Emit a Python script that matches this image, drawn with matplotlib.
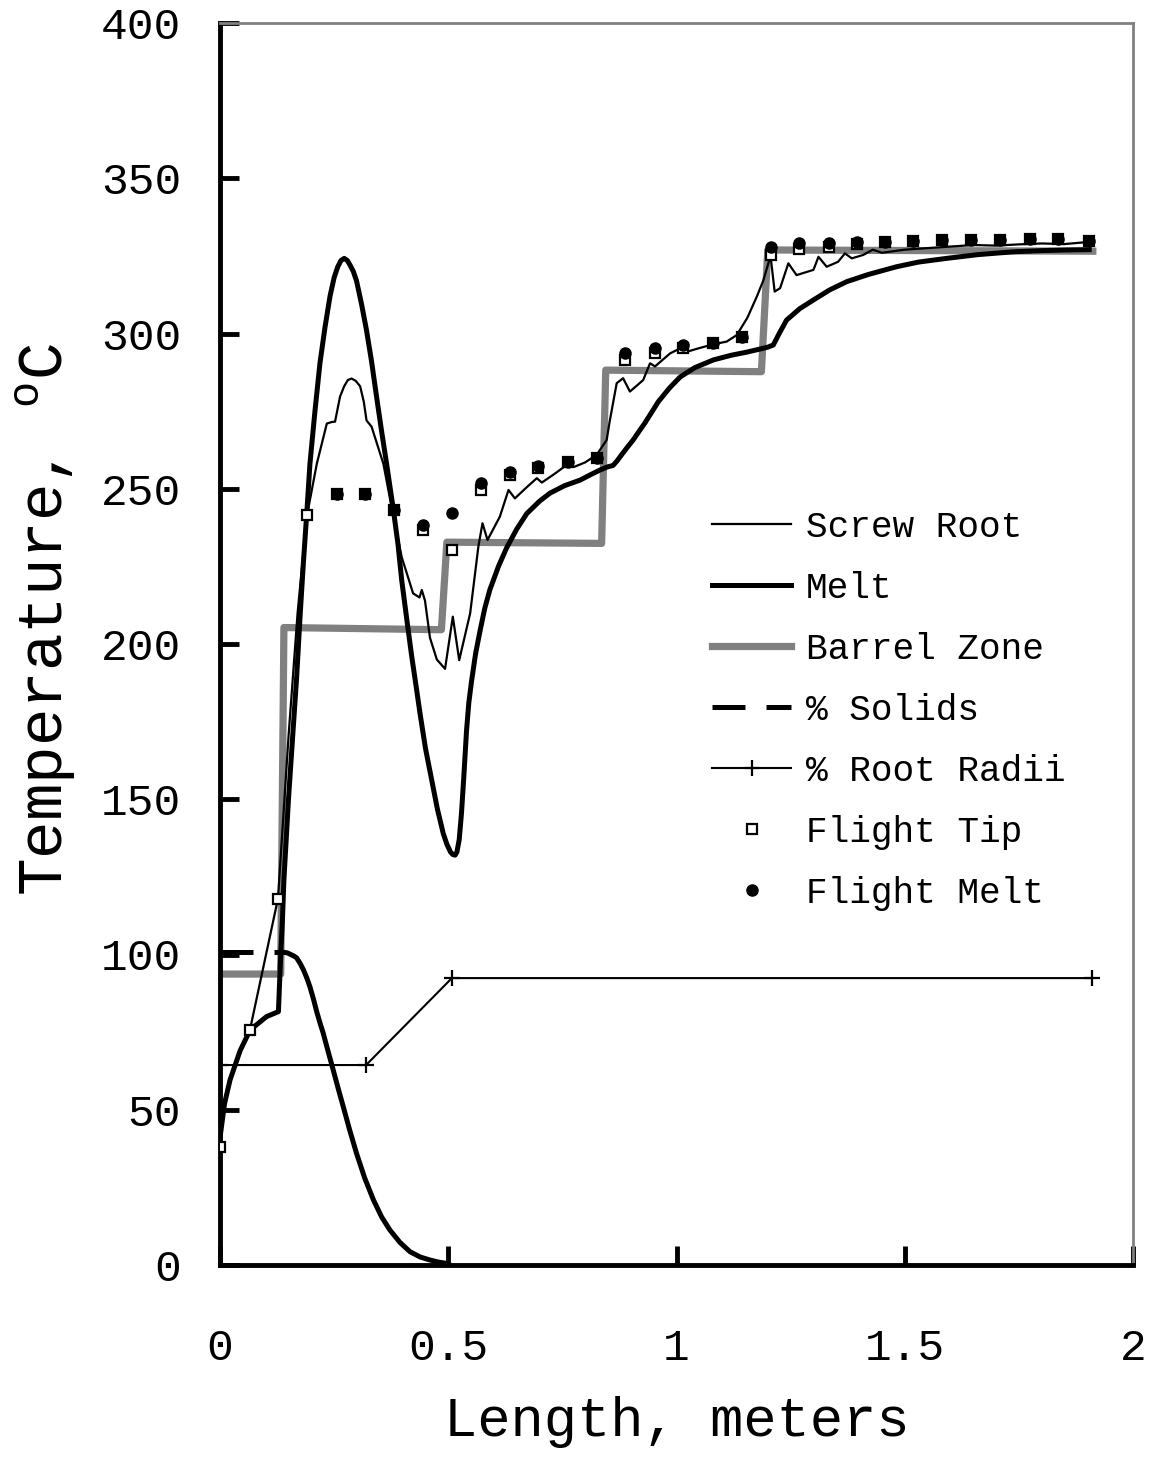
import numpy as np
import matplotlib.pyplot as plt

plt.rcParams['font.family'] = ['Liberation Mono', 'DejaVu Sans']
plt.rcParams['mathtext.fontset'] = 'custom'
plt.rcParams['mathtext.rm'] = 'Liberation Mono'

# screw root temperature (thin line)
root_x = [0, 0.01, 0.03, 0.066, 0.127, 0.15, 0.17, 0.19, 0.212, 0.234, 0.245, 0.252,
          0.263, 0.272, 0.28, 0.288, 0.297, 0.307, 0.315, 0.321, 0.332, 0.345, 0.358,
          0.376, 0.398, 0.423, 0.437, 0.442, 0.449,
          0.46, 0.475, 0.493, 0.51, 0.524, 0.548, 0.566, 0.575, 0.586, 0.613, 0.632,
          0.646, 0.672, 0.694, 0.705, 0.73, 0.759, 0.775, 0.8, 0.825, 0.847, 0.854,
          0.869, 0.883, 0.898, 0.927, 0.942, 0.953, 0.986, 1.008, 1.02, 1.05, 1.08,
          1.11, 1.132, 1.155, 1.176, 1.19, 1.206, 1.215, 1.227, 1.245, 1.263, 1.3,
          1.311, 1.329, 1.354, 1.369, 1.384, 1.409, 1.43, 1.45, 1.5, 1.55, 1.6, 1.65,
          1.7, 1.75, 1.8, 1.85, 1.904]
root_y = [40, 52, 64, 76, 118, 170, 210, 241, 258, 271, 271.5, 271.6,
          279.7, 283, 285, 285.5, 284.8, 283, 278, 272, 270, 264, 258,
          244, 228, 216.3, 215, 217.4, 214,
          202, 195, 192, 208.8, 194.8, 209.9, 231.4, 238.9, 233.5, 241, 249.6,
          246.9, 250.5, 253.4, 252, 254.5, 257.6, 257, 258.5, 260.9, 265.7, 272,
          284, 285.6, 281.3, 285, 290.4, 289.4, 293.6, 295.2, 294, 295.3, 296.5,
          297.4, 299.5, 305, 311.9, 317, 325, 313.5, 314.6, 322.6, 318.8, 320.5,
          324.7, 321.5, 323.1, 325.8, 324.2, 325.3, 327, 326, 327, 327.5, 328, 328.5,
          328.3, 328.7, 329, 328.8, 329.5]

# melt temperature (thick line)
melt_x = [0, 0.01, 0.022, 0.044, 0.066, 0.102, 0.128, 0.133, 0.137, 0.14, 0.145,
          0.15, 0.155, 0.16, 0.168, 0.175, 0.1826, 0.19, 0.197, 0.208, 0.219, 0.23,
          0.241, 0.25, 0.258, 0.265, 0.272, 0.279, 0.285, 0.292, 0.299, 0.31, 0.321,
          0.332, 0.343, 0.354, 0.365, 0.38, 0.39, 0.398, 0.41, 0.42, 0.43, 0.438,
          0.45, 0.464, 0.476, 0.489, 0.497, 0.505, 0.51, 0.515, 0.519, 0.524, 0.529,
          0.534, 0.54, 0.545, 0.551, 0.56, 0.57, 0.58, 0.591, 0.61, 0.628, 0.65,
          0.672, 0.7, 0.723, 0.755, 0.789, 0.81, 0.832, 0.848, 0.861, 0.87, 0.88,
          0.893, 0.905, 0.918, 0.93, 0.945, 0.96, 0.985, 1.008, 1.04, 1.081, 1.12,
          1.154, 1.183, 1.2, 1.212, 1.218, 1.225, 1.241, 1.27, 1.3, 1.335, 1.373,
          1.42, 1.482, 1.53, 1.592, 1.66, 1.737, 1.8, 1.855, 1.904]
melt_y = [41, 52, 59.6, 69, 75.7, 80, 81.6, 100, 112, 124, 137,
          150, 161, 172, 189.5, 208, 226, 242, 258, 275, 290.5, 302,
          312, 318, 321.5, 323.5, 324.2, 323.5, 322, 320, 317, 309.5, 301,
          291, 279.6, 268.5, 258, 243, 232, 220.6, 207, 196, 186, 177.8,
          166.5, 156, 147, 139, 135.5, 133, 132.2, 132, 133, 137, 145.5,
          157, 172, 181, 188, 197, 204.5, 211.5, 217.4, 225, 231, 237,
          242, 246, 248.6, 251, 252.8, 254.4, 256, 257, 257.5, 259, 261,
          263.5, 265.7, 268.5, 271, 274.5, 278, 282.5, 286, 289, 291.5, 293,
          294, 295, 295.6, 296.3, 298, 300, 304.3, 308, 310.8, 314, 316.7,
          319, 321.5, 323, 324.2, 325.4, 326.3, 326.7, 326.9, 327]

# barrel zone set points (grey step line)
zone_x = [0, 0.133, 0.140, 0.485, 0.497, 0.836, 0.845, 1.186, 1.200, 1.912]
zone_y = [93.7, 93.7, 205.3, 204.6, 232.8, 232.4, 288.2, 287.7, 326.9, 326.5]

# percent solids
solids_x = [0, 0.14, 0.148, 0.155, 0.162, 0.168, 0.176, 0.183, 0.19, 0.197, 0.205,
            0.212, 0.22, 0.226, 0.237, 0.248, 0.259, 0.27, 0.284, 0.299, 0.317,
            0.336, 0.354, 0.372, 0.394, 0.416, 0.438, 0.46, 0.48, 0.497, 0.5]
solids_y = [100.7, 100.7, 100.5, 100, 99.5, 98.9, 97, 95, 92.5, 89.6, 85.5,
            81.5, 77.5, 74.7, 68.7, 62.8, 56.8, 51, 43.5, 36, 28,
            21, 15.5, 11.3, 7.3, 4.3, 2.6, 1.6, 0.9, 0.5, 0.3]

# percent root radii
radii_x = [0, 0.32, 0.508, 1.91]
radii_y = [64.4, 64.4, 92.4, 92.4]

# flight tip / flight melt temperatures
flight_x = [0, 0.066, 0.127, 0.19, 0.256, 0.318, 0.382, 0.445, 0.509, 0.572, 0.635,
            0.697, 0.763, 0.825, 0.887, 0.953, 1.015, 1.08, 1.143, 1.206, 1.269,
            1.333, 1.395, 1.457, 1.519, 1.582, 1.646, 1.709, 1.774, 1.836, 1.904]
tip_y = [38, 75.7, 117.9, 241.5, 248.3, 248.3, 243.2, 236.7, 230.3, 249.6, 254.4,
         256.6, 258.5, 259.8, 291.5, 293.7, 295.4, 297, 298.8, 325.3, 327.2,
         328, 328.8, 329.6, 329.9, 330, 330.1, 330.1, 330.3, 330.3, 329.8]
fmelt_x = flight_x[4:]
fmelt_y = [248.3, 248.3, 243.2, 238.3, 242.3, 252, 255.5, 257.3, 258.5, 259.8,
           293.6, 295.2, 296.3, 297, 298.8, 328, 329, 329.3, 329.6, 329.6, 329.9,
           330, 330.1, 330.1, 330.3, 330.3, 329.8]

fig = plt.figure(figsize=(11.52, 14.6), dpi=100)
ax = fig.add_axes([220/1152, 1-1265/1460, (1133-220)/1152, (1265-23)/1460])

ax.plot(root_x, root_y, color='black', lw=1.6, label='Screw Root', zorder=3)
ax.plot(melt_x, melt_y, color='black', lw=3.6, label='Melt', zorder=3,
        solid_joinstyle='round')
ax.plot(zone_x, zone_y, color='#808080', lw=5.2, label='Barrel Zone', zorder=2)
ax.plot(solids_x[:2], solids_y[:2], color='black', lw=3.6, dashes=(6.6, 4.2),
        label='% Solids', zorder=3)
ax.plot(solids_x[1:], solids_y[1:], color='black', lw=3.6, zorder=3,
        solid_joinstyle='round')
ax.plot(radii_x, radii_y, color='black', lw=1.5, marker='+', ms=12, mew=1.6,
        label='% Root Radii', zorder=3)
ax.plot(flight_x, tip_y, ls='none', marker='s', ms=7.5, mfc='white', mec='black',
        mew=1.6, label='Flight Tip', zorder=4)
ax.plot(fmelt_x, fmelt_y, ls='none', marker='o', ms=8, color='black',
        label='Flight Melt', zorder=5)

ax.set_xlim(0, 2)
ax.set_ylim(0, 400)
ax.set_xticks([0, 0.5, 1, 1.5, 2])
ax.set_xticklabels(['0', '0.5', '1', '1.5', '2'])
ax.set_yticks(range(0, 401, 50))

for s in ['left', 'bottom']:
    ax.spines[s].set_linewidth(3.5)
    ax.spines[s].set_color('black')
for s in ['top', 'right']:
    ax.spines[s].set_linewidth(2)
    ax.spines[s].set_color('#808080')
ax.tick_params(direction='in', length=14, width=3.5, labelsize=32)
ax.tick_params(axis='x', pad=45)
ax.tick_params(axis='y', pad=28)

ax.set_xlabel('Length, meters', fontsize=40, labelpad=20)
ax.set_ylabel('Temperature, $^{\\rm o}$C', fontsize=45)
ax.yaxis.set_label_coords(-0.1555, 0.52)

ax.legend(loc='upper left', bbox_to_anchor=(712/1152, 1-510/1460),
          bbox_transform=fig.transFigure, frameon=False,
          fontsize=26, handlelength=2.2, handletextpad=0.4, labelspacing=0.72,
          borderpad=0, borderaxespad=0, numpoints=1)

fig.savefig('out.png', dpi=100)
